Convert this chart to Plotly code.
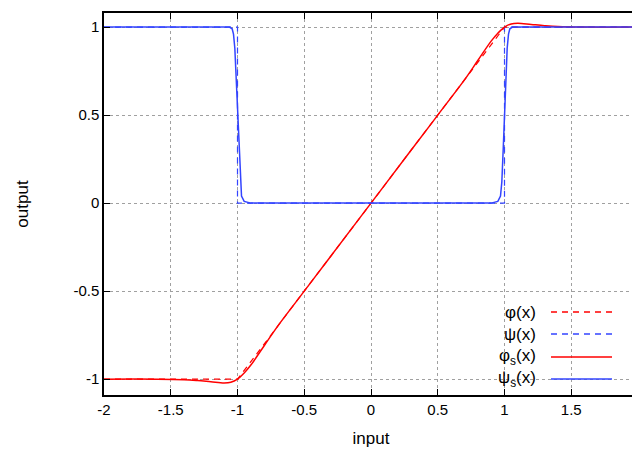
import plotly.graph_objs as go

# reference (dashed) curves
phi_x = [-2, -1, 1, 2]
phi_y = [-1, -1, 1, 1]
psi_x = [-2, -1, -1, 1, 1, 2]
psi_y = [1, 1, 0, 0, 1, 1]

# smoothed curves
phis_x = [-2, -1.6, -1.4, -1.3, -1.2, -1.1, -1.05, -1.0, -0.95, -0.9, -0.8, -0.7, -0.5, -0.3, 0,
          0.3, 0.5, 0.7, 0.8, 0.9, 0.95, 1.0, 1.05, 1.1, 1.2, 1.3, 1.4, 1.6, 2]
phis_y = [-1.0, -1.0, -1.003, -1.008, -1.015, -1.022, -1.018, -1.0, -0.965, -0.92, -0.81, -0.70, -0.5, -0.3, 0,
          0.3, 0.5, 0.70, 0.81, 0.92, 0.965, 1.0, 1.018, 1.022, 1.015, 1.008, 1.003, 1.0, 1.0]
psis_x = [-2, -1.06, -1.04, -1.03, -1.02, -1.01, -1.0, -0.99, -0.98, -0.97, -0.95, -0.9,
          0.9, 0.95, 0.97, 0.98, 0.99, 1.0, 1.01, 1.02, 1.03, 1.04, 1.06, 2]
psis_y = [1, 1, 0.99, 0.96, 0.88, 0.7, 0.5, 0.3, 0.12, 0.04, 0.01, 0,
          0, 0.01, 0.04, 0.12, 0.3, 0.5, 0.7, 0.88, 0.96, 0.99, 1, 1]

x_ticks = [-2, -1.5, -1, -0.5, 0, 0.5, 1, 1.5, 2]
y_ticks = [-1, -0.5, 0, 0.5, 1]

RED = "#ff0000"
BLUE = "#3344ff"
FONT = "Liberation Sans"

fig = go.Figure()
fig.add_trace(go.Scatter(x=phi_x, y=phi_y, mode="lines", line=dict(color=RED, dash="6px,5px", width=1.2)))
fig.add_trace(go.Scatter(x=psi_x, y=psi_y, mode="lines", line=dict(color=BLUE, dash="6px,5px", width=1.2)))
fig.add_trace(go.Scatter(x=phis_x, y=phis_y, mode="lines", line=dict(color=RED, width=1.5, shape="spline")))
fig.add_trace(go.Scatter(x=psis_x, y=psis_y, mode="lines", line=dict(color=BLUE, width=1.5)))

# gnuplot-like legend: right-aligned text, sample on the right
legend = [("φ(x)", RED, "dash", 304), ("ψ(x)", BLUE, "dash", 326),
          ("φ<sub>s</sub>(x)", RED, "solid", 349), ("ψ<sub>s</sub>(x)", BLUE, "solid", 371)]
for label, color, dash, ypx in legend:
    yp = 1 - (ypx - 5) / (387 - 5)
    fig.add_annotation(x=(530 - 96) / (630 - 96), y=yp, xref="paper", yref="paper", text=label,
                       showarrow=False, xanchor="right", yanchor="middle",
                       font=dict(family=FONT, size=17, color="black"))
    fig.add_shape(type="line", xref="paper", yref="paper",
                  x0=(543 - 96) / 534, x1=(604 - 96) / 534, y0=yp, y1=yp,
                  line=dict(color=color, width=1.5, dash="6px,5px" if dash == "dash" else "solid"))

axis = dict(showline=True, linecolor="black", linewidth=1.5, mirror="ticks", ticks="inside",
            ticklen=6, tickcolor="black", showgrid=True, gridcolor="#a0a0a0", griddash="dot",
            gridwidth=1, zeroline=False, automargin=False,
            tickfont=dict(family=FONT, size=15, color="black"))
fig.update_layout(
    width=640, height=457, showlegend=False,
    margin=dict(l=96, r=10, t=5, b=70),
    plot_bgcolor="white", paper_bgcolor="white",
    xaxis=dict(axis, range=[-2, 2], tickvals=x_ticks, ticktext=[f"{v:g}" for v in x_ticks],
               title=dict(text="input", font=dict(family=FONT, size=17, color="black"), standoff=15)),
    yaxis=dict(axis, range=[-1.09, 1.08], tickvals=y_ticks, ticktext=[f"{v:g}" for v in y_ticks],
               title=dict(text="output", font=dict(family=FONT, size=17, color="black"), standoff=40)),
)
fig.write_html("out.html")
